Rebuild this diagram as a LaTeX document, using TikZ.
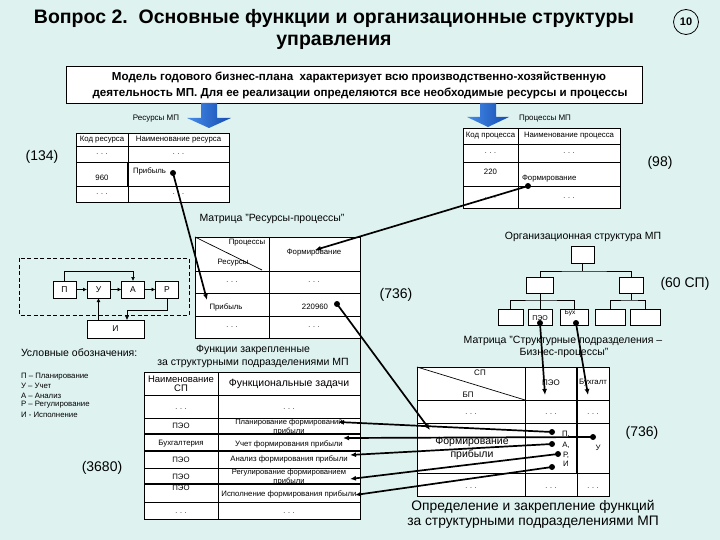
\documentclass[tikz,border=0pt]{standalone}
\usepackage{fontspec}
\setmainfont{Liberation Sans}
\usetikzlibrary{arrows.meta}
\definecolor{bg}{RGB}{222,243,240}
\definecolor{bluel}{RGB}{70,140,235}
\definecolor{blued}{RGB}{20,75,175}
\begin{document}
\begin{tikzpicture}[x=1pt,y=-1pt,
  every node/.style={inner sep=0pt, outer sep=0pt},
  f6/.style={font=\fontsize{6.5}{7.5}\selectfont},
  f7/.style={font=\fontsize{7}{8.5}\selectfont},
  f75/.style={font=\fontsize{7.8}{8.5}\selectfont},
  f8/.style={font=\fontsize{8}{9.5}\selectfont},
  f10/.style={font=\fontsize{10.5}{12.5}\selectfont},
  f13/.style={font=\fontsize{13.8}{16}\selectfont},
  f14/.style={font=\fontsize{14}{16}\selectfont},
  tbl/.style={draw, fill=white, line width=0.7pt},
  tln/.style={line width=0.7pt},
  tlnb/.style={line width=1.3pt},
  conn/.style={line width=1.7pt, -{Latex[length=6pt,width=5pt]}},
  parr/.style={line width=1.4pt, -{Latex[length=4pt,width=4pt]}},
  tarr/.style={line width=0.7pt, -{Latex[length=4pt,width=4pt]}},
  pbox/.style={draw, fill=white, line width=0.7pt, minimum width=23pt, minimum height=17pt, font=\fontsize{8.5}{9}\selectfont},
  obox/.style={draw, fill=white, line width=0.7pt, minimum height=16pt},
  barrow/.style={left color=bluel, right color=blued, draw=none}
]
\fill[bg] (0,0) rectangle (720,540);
\useasboundingbox (0,0) rectangle (720,540);

% connector ends
\coordinate (rDot) at (173,173);
\coordinate (rEnd) at (207,300);
\coordinate (pDot) at (528,186);
\coordinate (pEnd) at (315,250);
\coordinate (mDot) at (337,304);
\coordinate (mEnd) at (430,430);
\coordinate (peoDot) at (540,323);
\coordinate (peoEnd) at (545,395);
\coordinate (buxDot) at (576,323);
\coordinate (buxEnd) at (588,395);
\coordinate (sP) at (552,432);
\coordinate (sA) at (552,444);
\coordinate (sR) at (558,454);
\coordinate (sI) at (552,467);
\coordinate (sU) at (593,437);
\coordinate (fP) at (338,422);
\coordinate (fU) at (343,438);
\coordinate (fA) at (350,455);
\coordinate (fR) at (350,479);
\coordinate (fI) at (355,495);

% ---------- title ----------
\node[font=\bfseries\fontsize{19.5}{23}\selectfont] (title1) at (334,18) {Вопрос 2.\ \ Основные функции и организационные структуры};
\node[font=\bfseries\fontsize{19.5}{23}\selectfont] (title2) at (334,42) {управления};
\node[draw, circle, minimum size=25pt, line width=0.8pt, font=\bfseries\fontsize{11}{12}\selectfont] (num) at (686,22) {10};

% ---------- model box ----------
\node[draw, fill=white, line width=0.8pt, minimum width=576pt, minimum height=37pt] (model) at (354,84.5) {};
\node[font=\bfseries\fontsize{11.6}{13}\selectfont] (m1) at (359,77) {Модель годового бизнес-плана\ \ характеризует всю производственно-хозяйственную};
\node[font=\bfseries\fontsize{11.6}{13}\selectfont] (m2) at (360,93) {деятельность МП. Для ее реализации определяются все необходимые ресурсы и процессы};

% ---------- blue arrows ----------
\shade[barrow] (201,103) -- (217,103) -- (217,118) -- (231,118) -- (209,128) -- (187,118) -- (201,118) -- cycle;
\shade[barrow] (480,103) -- (496,103) -- (496,117) -- (509,117) -- (488,127) -- (467,117) -- (480,117) -- cycle;
\node[f8] (resmp) at (156,119) {Ресурсы МП};
\node[f8] (procmp) at (545,119) {Процессы МП};

% ---------- resources table ----------
\draw[tbl] (76,133) rectangle (229,202);
\draw[tln] (76,146) -- (229,146) (76,162) -- (229,162) (76,186) -- (229,186) (128,133) -- (128,202);
\draw[tlnb] (128,162) -- (128,186);
\node[f75] (r11) at (102,140) {Код ресурса};
\node[f75] (r12) at (178.5,140) {Наименование ресурса};
\node[f7] (r21) at (102,154) {. . .};
\node[f7] (r22) at (178.5,154) {. . .};
\node[f75] (r31) at (102,178) {960};
\node[f75, anchor=west] (r32) at (133,171) {Прибыль};
\node[f7] (r41) at (102,194) {. . .};
\node[f7] (r42) at (178.5,194) {. . .};
\node[f14] (n134) at (42,157) {(134)};

% ---------- processes table ----------
\draw[tbl] (463,128) rectangle (620,208);
\draw[tln] (463,144) -- (620,144) (463,162) -- (620,162) (463,186) -- (620,186) (518,128) -- (518,208);
\node[f75] (p11) at (490.5,136) {Код процесса};
\node[f75] (p12) at (569,136) {Наименование процесса};
\node[f7] (p21) at (490.5,153) {. . .};
\node[f7] (p22) at (569,153) {. . .};
\node[f75] (p31) at (490.5,172) {220};
\node[f75, anchor=west] (p32) at (522,179) {Формирование};
\node[f7] (p41) at (490.5,198) {. . .};
\node[f7] (p42) at (569,198) {. . .};
\node[f14] (n98) at (660,163) {(98)};

% ---------- matrix resources-processes ----------
\node[f10] (mrp) at (272,219) {Матрица "Ресурсы-процессы"};
\draw[tbl] (195,237) rectangle (360,338);
\draw[tln] (195,271) -- (360,271) (195,293) -- (360,293) (195,316) -- (360,316) (269,237) -- (269,338);
\draw[tln] (195,237) -- (262,270);
\node[f75] (mh1) at (247,243) {Процессы};
\node[f75] (mh2) at (233,263) {Ресурсы};
\node[f75] (mh3) at (314,253) {Формирование};
\node[f7] (ma1) at (232,282) {. . .};
\node[f7] (ma2) at (314,282) {. . .};
\node[f75] (mb1) at (226,307) {Прибыль};
\node[f75] (mb2) at (315,307) {220960};
\node[f7] (mc1) at (232,327) {. . .};
\node[f7] (mc2) at (314,327) {. . .};

% ---------- PUAR scheme ----------
\draw[line width=0.7pt, dash pattern=on 4pt off 2.5pt] (19,258) rectangle (189,315);
\node[pbox] (P) at (64.5,289.5) {П};
\node[pbox] (U) at (98.5,289.5) {У};
\node[pbox] (A) at (133,289.5) {А};
\node[pbox] (R) at (167,289.5) {Р};
\node[pbox, minimum width=57pt, minimum height=18pt] (I) at (115.5,329) {И};
\draw[parr] (P) -- (U);
\draw[parr] (U) -- (A);
\draw[parr] (A) -- (R);
\draw[tarr] (P.north) -- ++(0,-10) -| (A.north);
\draw[tarr] (R.south) -- ++(0,12) -| ([xshift=11.5pt]I.north);
\draw[parr] (U.south |- I.north) -- (U.south);

% ---------- legend ----------
\node[f10, anchor=west] (leg) at (21,353) {Условные обозначения:};
\node[f75, anchor=west] (l1) at (21,377) {П – Планирование};
\node[f75, anchor=west] (l2) at (21,386) {У – Учет};
\node[f75, anchor=west] (l3) at (21,395.5) {А – Анализ};
\node[f75, anchor=west] (l4) at (21,405) {Р – Регулирование};
\node[f75, anchor=west] (l5) at (21,414.5) {И - Исполнение};
\node[f14] (n3680) at (102,468) {(3680)};

% ---------- functions table ----------
\node[f10] (ft1) at (253,350) {Функции закрепленные};
\node[f10] (ft2) at (253,363) {за структурными подразделениями МП};
\draw[tbl] (144,372) rectangle (360,519);
\draw[tln] (144,395) -- (360,395) (144,418) -- (360,418) (144,468) -- (360,468) (144,502) -- (360,502) (218,372) -- (218,519);
\draw[tlnb] (144,434) -- (360,434) (144,451) -- (360,451) (144,484) -- (360,484);
\node[align=center, font=\fontsize{9.5}{9.5}\selectfont] (fh1) at (181,384) {Наименование\\СП};
\node[f10] (fh2) at (289,384) {Функциональные задачи};
\node[f7] (fa1) at (181,409) {. . .};
\node[f7] (fa2) at (289,409) {. . .};
\node[f75] (fb1) at (181,426) {ПЭО};
\node[align=center, font=\fontsize{7.6}{8.2}\selectfont] (fb2) at (289,427) {Планирование формирований\\прибыли};
\node[f75] (fc1) at (181,444) {Бухгалтерия};
\node[f75] (fc2) at (289,444) {Учет формирования прибыли};
\node[f75] (fd1) at (181,460) {ПЭО};
\node[f75] (fd2) at (289,459) {Анализ формирования прибыли};
\node[f75] (fe1) at (181,477) {ПЭО};
\node[align=center, font=\fontsize{7.6}{8.2}\selectfont] (fe2) at (289,477) {Регулирование формированием\\прибыли};
\node[f75] (ff1) at (181,488) {ПЭО};
\node[f75] (ff2) at (289,494) {Исполнение формирования прибыли};
\node[f7] (fg1) at (181,513) {. . .};
\node[f7] (fg2) at (289,513) {. . .};
\draw[line width=0.8pt] (360,338) -- (360,372);

% ---------- org structure ----------
\node[f10] (ort) at (583,237) {Организационная структура МП};
\node[obox, minimum width=23pt, minimum height=17pt] (o0) at (582.5,254.5) {};
\node[obox, minimum width=27pt] (o1) at (540,285) {};
\node[obox, minimum width=24pt] (o2) at (631,285) {};
\node[obox, minimum width=25pt] (o3) at (510.5,317) {};
\node[obox, minimum width=24pt] (o4) at (540,317) {};
\node[obox, minimum width=28pt] (o5) at (574,317) {};
\node[obox, minimum width=30pt] (o6) at (610,317) {};
\node[obox, minimum width=30pt] (o7) at (645,317) {};
\draw[tln] (o0.south) -- ++(0,8) coordinate (j0);
\draw[tln] (o1.north) |- (j0) -| (o2.north);
\draw[tln] (o1.south) -- ++(0,7) coordinate (j1);
\draw[tln] (o3.north) |- (j1) -| (o5.north);
\draw[tln] (j1) -- (o4.north);
\draw[tln] (o2.south) -- ++(0,7) coordinate (j2);
\draw[tln] (o6.north) |- (j2) -| (o7.north);
\node[f7] (peo) at (540,318) {ПЭО};
\node[f6] (bux) at (570,313) {Бух};
\node[f14] (n60) at (685,284) {(60 СП)};
\node[f14] (n736a) at (396,295) {(736)};

% ---------- matrix SP - BP ----------
\node[f10] (m2t1) at (563,341) {Матрица "Структурные подразделения –};
\node[f10] (m2t2) at (564,353) {Бизнес-процессы"};
\draw[tbl] (417,367) rectangle (609,496);
\draw[tln] (417,400) -- (609,400) (417,423) -- (609,423) (417,473) -- (609,473) (525,367) -- (525,496) (577,423) -- (577,496);
\draw[tlnb] (577,367) -- (577,473);
\draw[tln] (417,367) -- (525,400);
\node[f8] (s1) at (480,373) {СП};
\node[f8] (s2) at (468,395) {БП};
\node[f8] (s3) at (551,383) {ПЭО};
\node[f75] (s4) at (593,383) {Бухгалт};
\node[f7] (sa1) at (471,414) {. . .};
\node[f7] (sa2) at (551,414) {. . .};
\node[f7] (sa3) at (593,414) {. . .};
\node[f10] (sb1) at (472,442) {Формирование};
\node[f10] (sb2) at (472,455) {прибыли};
\node[f75] (lp) at (566,434) {П,};
\node[f75] (la) at (566,445) {А,};
\node[f75] (lr) at (566,455) {Р,};
\node[f75] (li) at (566,464) {И};
\node[f75] (lu) at (598,448) {У};
\node[f7] (sc1) at (471,488) {. . .};
\node[f7] (sc2) at (551,488) {. . .};
\node[f7] (sc3) at (593,488) {. . .};
\node[f14] (n736b) at (642,433) {(736)};

\node[f13] (cap1) at (533,507) {Определение и закрепление функций};
\node[f13] (cap2) at (533,522) {за структурными подразделениями МП};

% ---------- connectors ----------
\fill (rDot) circle (3pt);
\fill (pDot) circle (3pt);
\fill (mDot) circle (3pt);
\fill (peoDot) circle (3pt);
\fill (buxDot) circle (3pt);
\fill (sP) circle (3pt);
\fill (sA) circle (3pt);
\fill (sR) circle (3pt);
\fill (sI) circle (3pt);
\fill (sU) circle (3pt);
\draw[conn] (rDot) -- (rEnd);
\draw[conn] (pDot) -- (pEnd);
\draw[conn] (mDot) -- (mEnd);
\draw[conn] (peoDot) -- (peoEnd);
\draw[conn] (buxDot) -- (buxEnd);
\draw[conn] (sP) -- (fP);
\draw[conn] (sU) -- (fU);
\draw[conn] (sA) -- (fA);
\draw[conn] (sR) -- (fR);
\draw[conn] (sI) -- (fI);
\end{tikzpicture}
\end{document}
